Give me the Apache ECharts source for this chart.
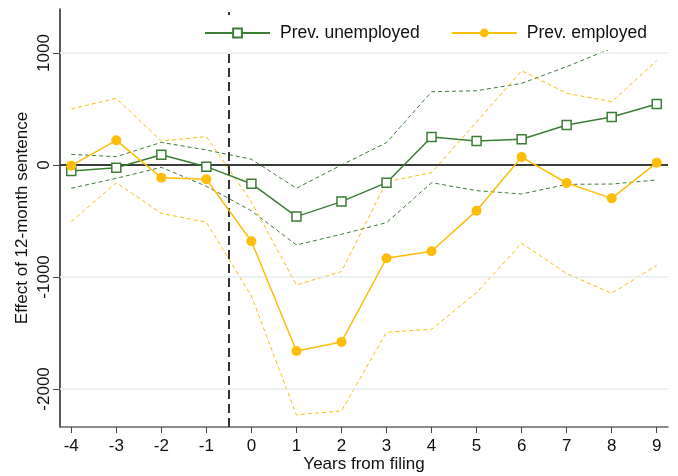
<!DOCTYPE html>
<html>
<head>
<meta charset="utf-8">
<script src="https://cdn.jsdelivr.net/npm/echarts@6/dist/echarts.min.js"></script>
<style>
  html, body { margin: 0; padding: 0; background: #fff; }
  #chart { width: 678px; height: 476px; }
</style>
</head>
<body>
<div id="chart"></div>
<script>
// years from filing
var years = [-4, -3, -2, -1, 0, 1, 2, 3, 4, 5, 6, 7, 8, 9];
// previously unemployed: estimate and 95% band
var unemp   = [-54, -24, 92, -15, -167, -461, -327, -158, 250, 214, 229, 357, 429, 545];
var unempHi = [95, 74, 202, 134, 51, -208, 0, 200, 654, 663, 729, 878, 1042, 1230];
var unempLo = [-208, -119, -21, -190, -410, -714, -619, -515, -158, -229, -259, -173, -170, -134];
// previously employed: estimate and 95% band
var emp   = [-6, 220, -113, -128, -681, -1661, -1580, -833, -771, -408, 71, -161, -298, 21];
var empHi = [500, 595, 214, 253, -330, -1071, -952, -149, -69, 385, 842, 640, 565, 932];
var empLo = [-506, -158, -432, -512, -1170, -2232, -2196, -1494, -1467, -1140, -699, -970, -1146, -896];
// y tick labels
var yTicks = [-2000, -1000, 0, 1000];
var filingLine = -0.5;

var GREEN = '#3d7d37';
var GOLD = '#fdbd08';
var FONT = '"Liberation Sans", Arial, sans-serif';

function pairs(vals) {
    return years.map(function (x, i) { return [x, vals[i]]; });
}

function band(name, vals, color) {
    return {
        name: name,
        type: 'line',
        data: pairs(vals),
        symbol: 'none',
        silent: true,
        z: 2,
        lineStyle: { color: color, width: 1, type: [4, 3] }
    };
}

var myChart = echarts.init(document.getElementById('chart'));

var option = {
    animation: false,
    backgroundColor: '#fff',
    textStyle: { fontFamily: FONT },
    grid: { left: 60, right: 10, top: 9, bottom: 49, outerBoundsMode: 'none', containLabel: false },
    legend: {
        data: ['Prev. unemployed', 'Prev. employed'],
        left: 196,
        top: 15,
        z: 10,
        padding: [9, 22, 8, 8],
        backgroundColor: '#fff',
        itemWidth: 65,
        itemHeight: 11,
        itemGap: 31,
        textStyle: { fontSize: 17.5, color: '#111', fontFamily: FONT, padding: [0, 0, 0, 5] }
    },
    xAxis: {
        type: 'value',
        min: -4.25,
        max: 9.25,
        name: 'Years from filing',
        nameLocation: 'middle',
        nameMoveOverlap: false,
        nameGap: 29,
        nameTextStyle: { fontSize: 17, color: '#111' },
        axisLine: { onZero: false, lineStyle: { color: '#666', width: 1.5 } },
        axisTick: { customValues: years, length: 6, lineStyle: { color: '#444' } },
        axisLabel: { customValues: years, fontSize: 17, color: '#111', margin: 11 },
        splitLine: { show: false }
    },
    yAxis: {
        type: 'value',
        min: -2340,
        max: 1393,
        name: 'Effect of 12-month sentence',
        nameLocation: 'middle',
        nameMoveOverlap: false,
        nameGap: 29,
        nameTextStyle: { fontSize: 17, color: '#111' },
        axisLine: { show: true, onZero: false, lineStyle: { color: '#222', width: 1.5 } },
        axisTick: { show: true, customValues: yTicks, length: 7, lineStyle: { color: '#444' } },
        axisLabel: {
            customValues: yTicks, rotate: 90, fontSize: 17, color: '#111', margin: 7,
            formatter: function (v) { return String(v); }
        },
        splitLine: { show: false }
    },
    series: [
        {
            name: 'grid',
            type: 'line',
            data: [],
            silent: true,
            z: 1,
            markLine: {
                silent: true,
                symbol: 'none',
                label: { show: false },
                lineStyle: { color: '#e6eeee', width: 1.5, type: 'solid' },
                data: yTicks.map(function (v) { return { yAxis: v }; })
            }
        },
        band('uHi', unempHi, GREEN),
        band('uLo', unempLo, GREEN),
        band('eHi', empHi, GOLD),
        band('eLo', empLo, GOLD),
        {
            name: 'refs',
            type: 'line',
            data: [],
            silent: true,
            z: 3,
            markLine: {
                silent: true,
                symbol: 'none',
                label: { show: false },
                data: [
                    { yAxis: 0, lineStyle: { color: '#000', width: 1.5, type: 'solid' } },
                    { xAxis: filingLine, lineStyle: { color: '#333', width: 2, type: [9, 5] } }
                ]
            }
        },
        {
            name: 'Prev. unemployed',
            type: 'line',
            data: pairs(unemp),
            z: 5,
            symbol: 'rect',
            symbolSize: 9,
            lineStyle: { color: GREEN, width: 1.5 },
            itemStyle: { color: '#fff', borderColor: GREEN, borderWidth: 1.5 }
        },
        {
            name: 'Prev. employed',
            type: 'line',
            data: pairs(emp),
            z: 6,
            symbol: 'circle',
            symbolSize: 10,
            lineStyle: { color: GOLD, width: 1.5 },
            itemStyle: { color: GOLD }
        }
    ]
};

myChart.setOption(option);
</script>
</body>
</html>
